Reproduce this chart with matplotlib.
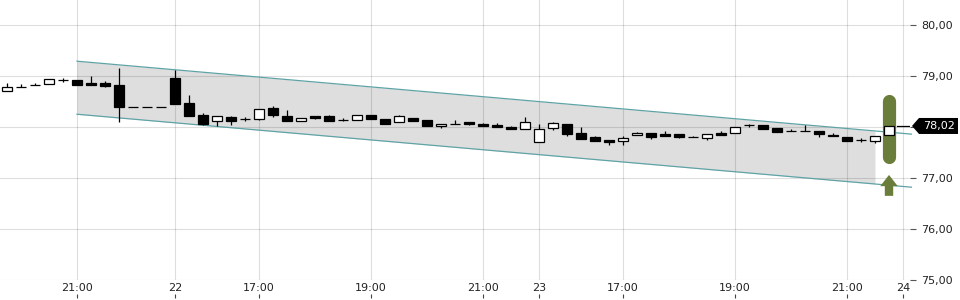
import numpy as np
import matplotlib
matplotlib.use("Agg")
import matplotlib.pyplot as plt
import matplotlib.transforms as mtransforms
from matplotlib.patches import Polygon, FancyArrow

# candle data (index = candle position)
opens = [78.71, 78.78, 78.82, 78.84, 78.92, 78.92, 78.86, 78.87, 78.82, 78.40,
         78.40, 78.40, 78.955, 78.48, 78.23, 78.11, 78.19, 78.15, 78.15, 78.37,
         78.22, 78.11, 78.21, 78.22, 78.14, 78.13, 78.24, 78.16, 78.09, 78.18,
         78.14, 78.01, 78.06, 78.09, 78.06, 78.04, 78.00, 77.955, 77.71, 77.975,
         78.05, 77.88, 77.80, 77.745, 77.73, 77.84, 77.88, 77.86, 77.86, 77.81,
         77.79, 77.89, 77.88, 78.03, 78.04, 77.98, 77.92, 77.92, 77.92, 77.85,
         77.80, 77.745, 77.72, 77.84]
highs = [78.87, 78.84, 78.87, 78.94, 78.955, 78.92, 79.00, 78.90, 79.16, 78.40,
         78.40, 78.40, 79.12, 78.63, 78.27, 78.21, 78.22, 78.19, 78.35, 78.41,
         78.33, 78.17, 78.21, 78.24, 78.18, 78.23, 78.24, 78.16, 78.24, 78.18,
         78.14, 78.05, 78.13, 78.09, 78.08, 78.07, 78.02, 78.20, 78.05, 78.10,
         78.05, 77.995, 77.82, 77.745, 77.82, 77.90, 77.88, 77.92, 77.86, 77.83,
         77.86, 77.93, 77.995, 78.06, 78.04, 77.98, 77.96, 78.04, 77.92, 77.88,
         77.80, 77.78, 77.83, 78.07]
lows = [78.71, 78.78, 78.82, 78.84, 78.88, 78.83, 78.83, 78.78, 78.10, 78.40,
        78.40, 78.40, 78.45, 78.22, 78.03, 78.01, 78.03, 78.12, 78.14, 78.20,
        78.12, 78.11, 78.15, 78.11, 78.11, 78.13, 78.15, 78.06, 78.09, 78.12,
        78.01, 77.99, 78.06, 78.045, 78.01, 78.00, 77.955, 77.955, 77.71, 77.95,
        77.82, 77.77, 77.72, 77.65, 77.65, 77.84, 77.77, 77.83, 77.79, 77.81,
        77.745, 77.85, 77.88, 78.00, 77.955, 77.91, 77.92, 77.92, 77.81, 77.82,
        77.72, 77.71, 77.68, 77.84]
closes = [78.78, 78.78, 78.82, 78.94, 78.92, 78.83, 78.83, 78.81, 78.40, 78.40,
          78.40, 78.40, 78.46, 78.22, 78.06, 78.21, 78.12, 78.15, 78.35, 78.23,
          78.12, 78.17, 78.18, 78.11, 78.14, 78.23, 78.15, 78.06, 78.21, 78.12,
          78.01, 78.05, 78.06, 78.06, 78.01, 78.00, 77.955, 78.09, 77.955, 78.07,
          77.86, 77.77, 77.72, 77.71, 77.78, 77.88, 77.81, 77.83, 77.81, 77.81,
          77.86, 77.85, 77.995, 78.03, 77.955, 77.91, 77.92, 77.92, 77.86, 77.82,
          77.72, 77.745, 77.83, 78.02]

tick_pos = [5, 12, 18, 26, 34, 38, 44, 52, 60, 64]
tick_labels = ['21:00', '22', '17:00', '19:00', '21:00', '23', '17:00', '19:00', '21:00', '24']
y_ticks = [75, 76, 77, 78, 79, 80]
y_labels = ['75,00', '76,00', '77,00', '', '79,00', '80,00']  # 78 hidden behind price tag

# trend channel end points
channel_x = [5, 64.6]
channel_upper = [79.29, 77.86]
channel_lower = [78.25, 76.82]
shade_end = 62

# signal: range bar and up arrow
signal_range = [77.42, 78.50]
arrow_span = [76.65, 77.06]

o = np.array(opens)
h = np.array(highs)
l = np.array(lows)
c = np.array(closes)
idx = np.arange(len(o))

fig = plt.figure(figsize=(9.6, 3.0), dpi=100)
ax = fig.add_axes([0, 20 / 300, 910 / 960, 280 / 300])
ax.set_xlim(-0.5, 64.5)
ax.set_ylim(75.0, 80.49)

# channel
xs = np.linspace(channel_x[0], shade_end, 50)
up = np.interp(xs, channel_x, channel_upper)
lo = np.interp(xs, channel_x, channel_lower)
ax.fill_between(xs, lo, up, color='#dedede', lw=0, zorder=0)
ax.plot(channel_x, channel_upper, color='#5fa3a6', lw=0.9, zorder=1, clip_on=False)
ax.plot(channel_x, channel_lower, color='#5fa3a6', lw=0.9, zorder=1, clip_on=False)

# candles
w = 0.72
ax.vlines(idx, l, h, color='black', lw=0.9, zorder=2)
body = np.abs(c - o)
flat = body < 0.004
cols = np.where(c > o, 'white', 'black')
ax.bar(idx[~flat], body[~flat], bottom=np.minimum(o, c)[~flat], width=w,
       color=cols[~flat], edgecolor='black', lw=0.9, zorder=3)
ax.hlines(c[flat], idx[flat] - w / 2, idx[flat] + w / 2, color='black', lw=0.9, zorder=3)

# last price line
last = closes[-1]
ax.plot([idx[-1] + 0.6, 64.5], [last, last], color='black', lw=0.9, zorder=3)

# signal bar and arrow
ax.plot([idx[-1], idx[-1]], signal_range, color='#6b7d3a', lw=9.5,
        solid_capstyle='round', zorder=2.5)
ax.add_patch(FancyArrow(idx[-1], arrow_span[0], 0, arrow_span[1] - arrow_span[0],
                        width=0.6, head_width=1.25, head_length=0.22,
                        length_includes_head=True, color='#6b7d3a', lw=0, zorder=2.5))

# grid
ax.set_axisbelow(True)
ax.grid(True, color='black', alpha=0.13, lw=0.8)
for s in ax.spines.values():
    s.set_visible(False)

ax.set_xticks(tick_pos)
ax.set_xticklabels(tick_labels)
ax.tick_params(axis='x', length=0, pad=2.5, labelsize=8, labelcolor='#222222')
ax.vlines(tick_pos, -0.05, -0.065, transform=ax.get_xaxis_transform(),
          color='#444444', lw=0.8, clip_on=False)

ax.yaxis.tick_right()
ax.set_yticks(y_ticks)
ax.set_yticklabels(y_labels)
ax.tick_params(axis='y', length=4, width=0.8, color='#555555', pad=4,
               labelsize=8, labelcolor='#222222')

# price tag
tr = mtransforms.Affine2D() + mtransforms.ScaledTranslation(1.0, last, ax.get_yaxis_transform())
tag = Polygon([(2, 0), (9, 8), (48, 8), (48, -8), (9, -8)], closed=True,
              fc='black', ec='none', transform=tr, clip_on=False, zorder=5)
ax.add_patch(tag)
ax.annotate(f"{last:.2f}".replace('.', ','), xy=(1.0, last),
            xycoords=('axes fraction', 'data'), xytext=(29, 0),
            textcoords='offset pixels', ha='center', va='center',
            color='white', fontsize=8, zorder=6)

fig.savefig('out.png', dpi=100)
